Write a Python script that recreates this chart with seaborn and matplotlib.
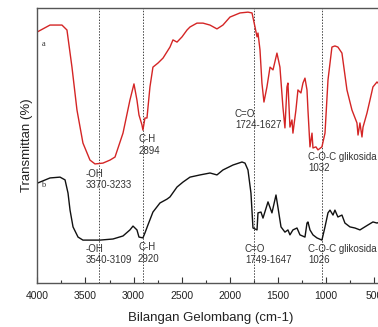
import numpy as np
import pandas as pd
import matplotlib
matplotlib.use("Agg")
import matplotlib.pyplot as plt
import seaborn as sns
from matplotlib.ticker import MultipleLocator

# ---- data (wavenumber cm-1, transmittance arbitrary %) ----
wn_a = [4000, 3868, 3744, 3692, 3640, 3588, 3526, 3453, 3401, 3318, 3245, 3193, 3110, 3038,
        2996, 2965, 2944, 2913, 2903, 2882, 2861, 2830, 2799, 2746, 2694, 2622, 2591, 2549,
        2497, 2445, 2414, 2342, 2279, 2207, 2134, 2072, 1999, 1895, 1812, 1770, 1739, 1718,
        1708, 1687, 1667, 1646, 1615, 1583, 1552, 1511, 1480, 1449, 1428, 1407, 1397, 1376,
        1355, 1345, 1314, 1293, 1262, 1241, 1220, 1199, 1189, 1168, 1147, 1137, 1106, 1085,
        1044, 1012, 981, 940, 909, 878, 836, 784, 732, 680, 669, 649, 628, 617, 576, 545,
        514, 472, 441]
t_a = [91.3, 93.8, 93.8, 92.0, 78.5, 62.9, 50.9, 44.7, 43.3, 43.6, 44.7, 45.8, 54.5, 66.5,
       72.4, 66.5, 61.1, 57.5, 55.6, 60.0, 60.0, 71.3, 78.5, 80.0, 81.8, 85.8, 88.4, 87.6,
       89.5, 92.0, 93.1, 94.5, 94.5, 93.8, 92.4, 93.8, 96.7, 98.2, 98.5, 98.2, 93.1, 89.5,
       90.9, 84.7, 72.7, 65.8, 71.3, 78.5, 77.5, 83.6, 78.5, 64.0, 56.4, 71.3, 72.7, 56.7,
       59.3, 54.5, 62.9, 70.2, 69.1, 72.7, 74.5, 70.2, 62.9, 49.5, 54.5, 49.1, 49.5, 48.4,
       49.5, 54.5, 73.8, 85.8, 86.2, 85.8, 83.6, 70.2, 62.9, 58.2, 53.8, 58.2, 53.1, 56.7,
       61.8, 66.5, 71.3, 73.1, 72.0]

wn_b = [3993, 3868, 3764, 3712, 3681, 3660, 3629, 3577, 3526, 3349, 3214, 3110, 3038, 3006,
        2965, 2944, 2903, 2882, 2851, 2799, 2726, 2653, 2622, 2549, 2487, 2414, 2310, 2206,
        2134, 2072, 1968, 1874, 1843, 1812, 1781, 1760, 1718, 1708, 1677, 1656, 1604, 1563,
        1521, 1501, 1469, 1428, 1397, 1376, 1345, 1303, 1272, 1220, 1199, 1189, 1168, 1137,
        1096, 1044, 1012, 981, 960, 929, 909, 878, 836, 805, 753, 701, 649, 617, 566, 514,
        472, 441]
t_b = [36.4, 38.2, 38.5, 37.5, 32.7, 26.5, 20.4, 16.7, 15.6, 15.6, 16.0, 17.1, 19.3, 20.7,
       19.3, 16.7, 16.4, 18.2, 21.1, 25.8, 29.1, 30.5, 31.3, 34.9, 36.7, 38.5, 39.3, 40.0,
       39.3, 41.1, 42.9, 44.0, 43.6, 41.1, 32.7, 20.0, 19.3, 25.5, 25.8, 23.6, 29.5, 25.5,
       32.0, 27.6, 20.4, 18.5, 19.3, 17.5, 19.3, 20.0, 17.5, 16.7, 21.8, 22.2, 19.3, 17.5,
       16.4, 15.6, 20.4, 25.5, 26.5, 24.7, 26.5, 24.0, 24.7, 21.8, 20.4, 20.0, 19.3, 20.0,
       21.1, 22.2, 21.8, 22.2]

ref_lines = [3356, 2899, 1747, 1047]
x_ticks = [4000, 3500, 3000, 2500, 2000, 1500, 1000, 500]

labels_a = [("-OH\n3370-3233", 3494, 37.6), ("C-H\n2894", 2944, 50.2),
            ("C=O\n1724-1627", 1947, 59.5), ("C-O-C glikosida\n1032", 1189, 43.8)]
labels_b = [("-OH\n3540-3109", 3494, 10.4), ("C-H\n2920", 2954, 10.9),
            ("C=O\n1749-1647", 1844, 10.5), ("C-O-C glikosida\n1026", 1189, 10.4)]
curve_names = [("a", 3939, 86.9), ("b", 3939, 35.6)]

sns.set_style("ticks")
plt.rcParams['font.family'] = ['Liberation Sans', 'DejaVu Sans']

df_a = pd.DataFrame({"wn": wn_a, "T": t_a})
df_b = pd.DataFrame({"wn": wn_b, "T": t_b})

fig = plt.figure(figsize=(3.78, 3.27), dpi=100)
ax = fig.add_axes([37.3 / 378, 44 / 327, 0.917, 275 / 327])

sns.lineplot(data=df_a, x="wn", y="T", ax=ax, color="#d42525", lw=1.0, sort=False)
sns.lineplot(data=df_b, x="wn", y="T", ax=ax, color="#111111", lw=1.0, sort=False)

for v in ref_lines:
    ax.axvline(v, color="#444444", lw=0.7, ls=(0, (1.5, 1.5)), zorder=0)

ax.set_xlim(4000, 400)
ax.set_ylim(0, 100)
ax.set_xticks(x_ticks)
ax.set_xticklabels([str(t) for t in x_ticks])
ax.xaxis.set_minor_locator(MultipleLocator(250))
ax.tick_params(axis='x', which='major', direction='in', length=4, width=0.8,
               colors='#333333', labelsize=7.5, pad=6, labelcolor='#222222')
ax.tick_params(axis='x', which='minor', direction='in', length=2.5, width=0.8, colors='#333333')
ax.set_yticks([])
ax.set_xlabel("Bilangan Gelombang (cm-1)", fontsize=9.5, color='#222222', labelpad=8)
ax.set_ylabel("Transmittan (%)", fontsize=9.5, color='#222222', labelpad=3)

for s in ['left', 'bottom', 'top']:
    ax.spines[s].set_color('#555555')
    ax.spines[s].set_linewidth(1.0)
ax.spines['right'].set_visible(False)

for txt, x, y in labels_a + labels_b:
    ax.text(x, y, txt, fontsize=7, color='#333333', ha='left', va='center', linespacing=1.15)
for txt, x, y in curve_names:
    ax.text(x, y, txt, fontsize=6, color='#333333', family='Liberation Serif',
            ha='center', va='center')

fig.savefig("out.png", dpi=100)
